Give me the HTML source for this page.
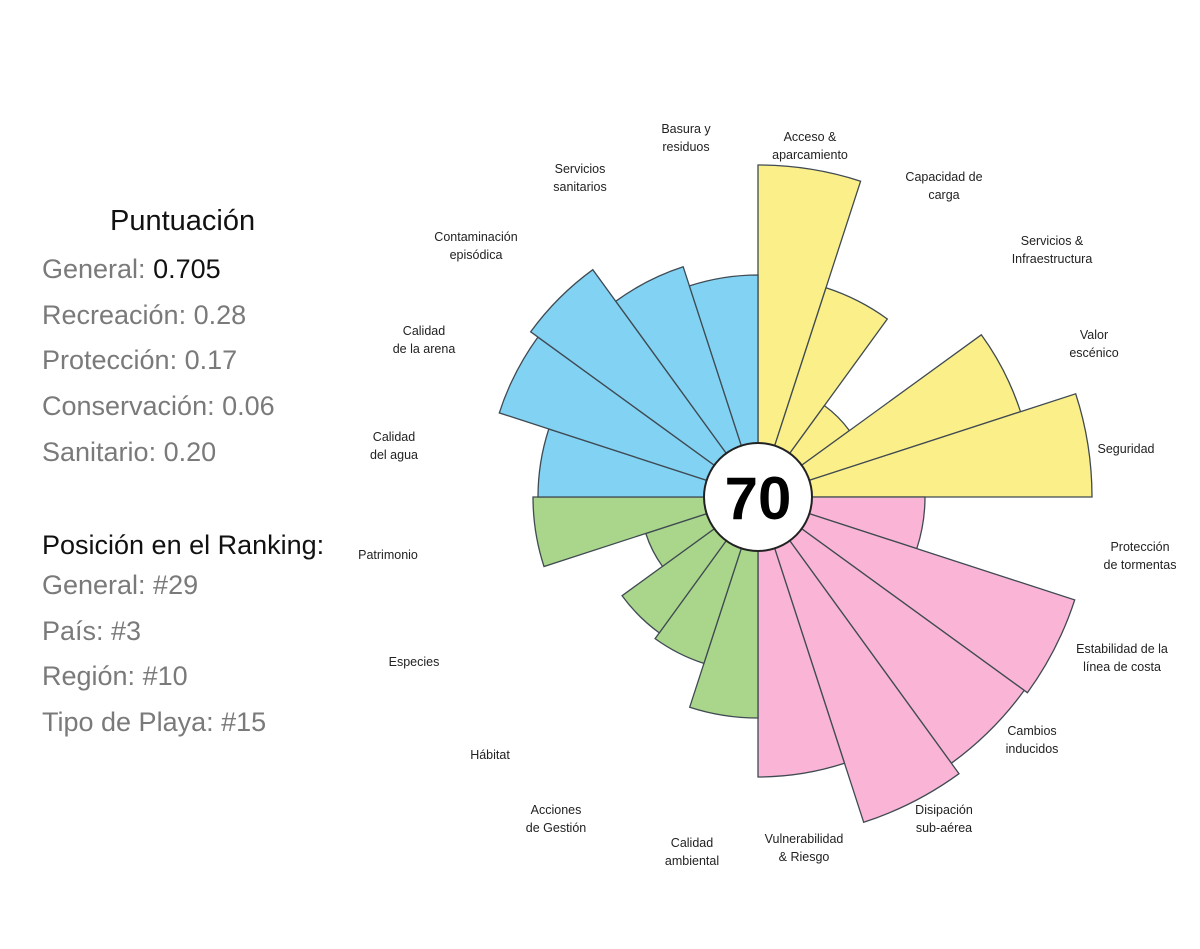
<!DOCTYPE html>
<html><head><meta charset="utf-8">
<style>
body{margin:0;background:#fff;width:1200px;height:949px;overflow:hidden;font-family:"Liberation Sans",sans-serif;}
.l{position:absolute;font-size:12.5px;color:#222;text-align:center;line-height:18px;white-space:nowrap;transform:translateX(-50%);}
.s{position:absolute;left:42px;font-size:27px;color:#7a7a7a;}
.h{position:absolute;font-size:29px;color:#111;}
</style></head><body>
<div class="h" style="left:110px;top:205px;">Puntuación</div>
<div class="s" style="top:254px;">General: <span style="color:#111">0.705</span></div>
<div class="s" style="top:300px;">Recreación: 0.28</div>
<div class="s" style="top:345px;">Protección: 0.17</div>
<div class="s" style="top:391px;">Conservación: 0.06</div>
<div class="s" style="top:437px;">Sanitario: 0.20</div>
<div class="h" style="left:42px;top:530px;font-size:27px;">Posición en el Ranking:</div>
<div class="s" style="top:570px;">General: #29</div>
<div class="s" style="top:616px;">País: #3</div>
<div class="s" style="top:661px;">Región: #10</div>
<div class="s" style="top:707px;">Tipo de Playa: #15</div>

<svg id="c" width="1200" height="949" style="position:absolute;left:0;top:0"></svg>

<div class="l" style="left:686px;top:120px">Basura y<br>residuos</div>
<div class="l" style="left:810px;top:128px">Acceso &amp;<br>aparcamiento</div>
<div class="l" style="left:944px;top:168px">Capacidad de<br>carga</div>
<div class="l" style="left:1052px;top:232px">Servicios &amp;<br>Infraestructura</div>
<div class="l" style="left:1094px;top:326px">Valor<br>escénico</div>
<div class="l" style="left:1126px;top:440px">Seguridad</div>
<div class="l" style="left:1140px;top:538px">Protección<br>de tormentas</div>
<div class="l" style="left:1122px;top:640px">Estabilidad de la<br>línea de costa</div>
<div class="l" style="left:1032px;top:722px">Cambios<br>inducidos</div>
<div class="l" style="left:944px;top:801px">Disipación<br>sub-aérea</div>
<div class="l" style="left:804px;top:830px">Vulnerabilidad<br>&amp; Riesgo</div>
<div class="l" style="left:692px;top:834px">Calidad<br>ambiental</div>
<div class="l" style="left:556px;top:801px">Acciones<br>de Gestión</div>
<div class="l" style="left:490px;top:746px">Hábitat</div>
<div class="l" style="left:414px;top:653px">Especies</div>
<div class="l" style="left:388px;top:546px">Patrimonio</div>
<div class="l" style="left:394px;top:428px">Calidad<br>del agua</div>
<div class="l" style="left:424px;top:322px">Calidad<br>de la arena</div>
<div class="l" style="left:476px;top:228px">Contaminación<br>episódica</div>
<div class="l" style="left:580px;top:160px">Servicios<br>sanitarios</div>

<script>
var cx=758,cy=497;
var r=[332,220,113,276,334, 167,333,329,342,280, 221,175,168,118,225, 220,272,281,242,222];
var col=["#fbef8a","#f9b4d6","#a9d68a","#82d2f3"];
var s="";
function p(a,rr){var t=a*Math.PI/180;return (cx+rr*Math.sin(t)).toFixed(1)+","+(cy-rr*Math.cos(t)).toFixed(1);}
for(var i=0;i<20;i++){var a0=i*18,a1=a0+18;
s+='<path d="M'+cx+','+cy+' L'+p(a0,r[i])+' A'+r[i]+','+r[i]+' 0 0 1 '+p(a1,r[i])+' Z" fill="'+col[Math.floor(i/5)]+'" stroke="#3f4a52" stroke-width="1.3"/>';}
s+='<circle cx="'+cx+'" cy="'+cy+'" r="54" fill="#fff" stroke="#222" stroke-width="2"/>';
s+='<text x="'+cx+'" y="'+(cy+22)+'" text-anchor="middle" font-family="Liberation Sans" font-weight="bold" font-size="60" fill="#000">70</text>';
document.getElementById("c").innerHTML=s;
</script>
</body></html>
